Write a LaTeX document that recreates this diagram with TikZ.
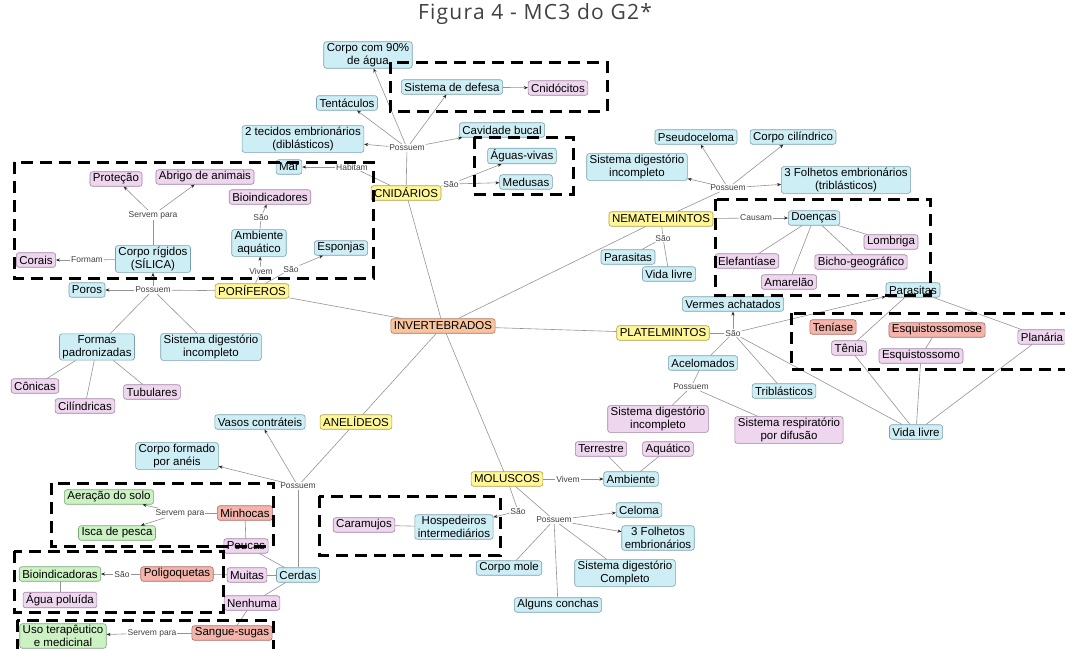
\documentclass[tikz,border=0pt]{standalone}
\usepackage{fontspec}
\setmainfont{Liberation Sans}
\newfontfamily\titlefont[LetterSpace=6]{Open Sans}
\usetikzlibrary{arrows.meta}

\definecolor{cblue}{RGB}{206,238,246}
\definecolor{cblueline}{RGB}{120,160,172}
\definecolor{cpink}{RGB}{239,214,239}
\definecolor{cpinkline}{RGB}{160,130,162}
\definecolor{cyellow}{RGB}{255,247,150}
\definecolor{cyellowline}{RGB}{170,160,80}
\definecolor{corange}{RGB}{247,196,158}
\definecolor{corangeline}{RGB}{170,120,90}
\definecolor{cred}{RGB}{244,180,172}
\definecolor{credline}{RGB}{170,110,100}
\definecolor{cgreen}{RGB}{204,242,196}
\definecolor{cgreenline}{RGB}{120,170,120}

\begin{document}
\begin{tikzpicture}[x=1pt,y=-1pt]
    % Define basic node style
    \tikzset{
        concept/.style={
            rectangle,
            rounded corners=2.5pt,
            draw,
            line width=0.6pt,
            align=center,
            inner xsep=3pt,
            inner ysep=1.6pt,
            minimum height=14.5pt,
            font=\fontsize{11.5}{12.8}\selectfont
        },
        bluebox/.style={concept, fill=cblue, draw=cblueline},
        pinkbox/.style={concept, fill=cpink, draw=cpinkline},
        yellowbox/.style={concept, fill=cyellow, draw=cyellowline},
        orangebox/.style={concept, fill=corange, draw=corangeline},
        redbox/.style={concept, fill=cred, draw=credline},
        greenbox/.style={concept, fill=cgreen, draw=cgreenline},
        linklabel/.style={fill=white, inner sep=0.8pt, text=black!75, font=\fontsize{8.5}{9}\selectfont},
        link/.style={draw=gray!85, line width=0.6pt},
        arrowlink/.style={link, -{Stealth[length=4pt, width=3.2pt, color=black!85]}},
        group/.style={line width=3pt, dash pattern=on 12pt off 7pt}
    }
    \useasboundingbox (0,0) rectangle (1065,648);

    \node[text=black!75, font=\titlefont\fontsize{21}{24}\selectfont] (title) at (535,14) {Figura 4 - MC3 do G2*};

    % Center
    \node[orangebox] (inv) at (443,326) {INVERTEBRADOS};

    % Cnidarios
    \node[yellowbox] (cnid) at (406,193) {CNIDÁRIOS};
    \node[linklabel] (cnidPos) at (407,148) {Possuem};
    \node[bluebox] (corpo90) at (368,55) {Corpo com 90\%\\de água};
    \node[bluebox] (tentac) at (347,103) {Tentáculos};
    \node[bluebox] (tecidos) at (303,139) {2 tecidos embrionários\\(diblásticos)};
    \node[bluebox] (defesa) at (452,87) {Sistema de defesa};
    \node[pinkbox] (cnidoc) at (558,88) {Cnidócitos};
    \node[bluebox] (bucal) at (502,130) {Cavidade bucal};
    \node[bluebox] (mar) at (289,167) {Mar};
    \node[linklabel] (cnidHab) at (352,167) {Habitam};
    \node[linklabel] (cnidSao) at (451,184) {São};
    \node[bluebox] (aguasv) at (522,156) {Águas-vivas};
    \node[bluebox] (medusas) at (526,182) {Medusas};

    % Poriferos
    \node[yellowbox] (porif) at (252,291) {PORÍFEROS};
    \node[linklabel] (porPos) at (153,290) {Possuem};
    \node[bluebox] (poros) at (87,290) {Poros};
    \node[bluebox] (silica) at (153,259) {Corpo rígidos\\(SÍLICA)};
    \node[linklabel] (silServ) at (153,215) {Servem para};
    \node[pinkbox] (protecao) at (116,179) {Proteção};
    \node[pinkbox] (abrigo) at (205,177) {Abrigo de animais};
    \node[linklabel] (silForm) at (87,260) {Formam};
    \node[pinkbox] (corais) at (36,260) {Corais};
    \node[linklabel] (porViv) at (261,271) {Vivem};
    \node[bluebox] (ambAq) at (259,243) {Ambiente\\aquático};
    \node[linklabel] (ambSao) at (261,217) {São};
    \node[pinkbox] (bioind) at (270,197) {Bioindicadores};
    \node[linklabel] (porSao) at (291,269) {São};
    \node[bluebox] (esponjas) at (341,248) {Esponjas};
    \node[bluebox] (formas) at (97,347) {Formas\\padronizadas};
    \node[bluebox] (porDig) at (211,347) {Sistema digestório\\incompleto};
    \node[pinkbox] (conicas) at (35,386) {Cônicas};
    \node[pinkbox] (cilind) at (85,406) {Cilíndricas};
    \node[pinkbox] (tubul) at (152,392) {Tubulares};

    % Nematelmintos
    \node[yellowbox] (nemat) at (661,219) {NEMATELMINTOS};
    \node[linklabel] (nemPos) at (728,188) {Possuem};
    \node[bluebox] (nemDig) at (637,167) {Sistema digestório\\incompleto};
    \node[bluebox] (pseudo) at (696,137) {Pseudoceloma};
    \node[bluebox] (cilindrico) at (793,137) {Corpo cilíndrico};
    \node[bluebox] (nemFolh) at (846,180) {3 Folhetos embrionários\\(triblásticos)};
    \node[linklabel] (nemCaus) at (756,218) {Causam};
    \node[bluebox] (doencas) at (814,218) {Doenças};
    \node[pinkbox] (lombriga) at (891,242) {Lombriga};
    \node[pinkbox] (elefant) at (747,261) {Elefantíase};
    \node[pinkbox] (bicho) at (861,262) {Bicho-geográfico};
    \node[pinkbox] (amarelao) at (789,282) {Amarelão};
    \node[linklabel] (nemSao) at (663,238) {São};
    \node[bluebox] (nemPara) at (628,257) {Parasitas};
    \node[bluebox] (nemVida) at (669,274) {Vida livre};

    % Platelmintos
    \node[yellowbox] (platel) at (663,333) {PLATELMINTOS};
    \node[linklabel] (platSao) at (733,333) {São};
    \node[bluebox] (vermes) at (733,304) {Vermes achatados};
    \node[bluebox] (platPara) at (913,290) {Parasitas};
    \node[bluebox] (acelom) at (703,363) {Acelomados};
    \node[linklabel] (acePos) at (691,387) {Possuem};
    \node[bluebox] (tribl) at (784,391) {Triblásticos};
    \node[pinkbox] (platDig) at (658,419) {Sistema digestório\\incompleto};
    \node[pinkbox] (respir) at (789,430) {Sistema respiratório\\por difusão};
    \node[bluebox] (platVida) at (916,432) {Vida livre};
    \node[redbox] (teniase) at (833,327) {Teníase};
    \node[pinkbox] (tenia) at (849,348) {Tênia};
    \node[redbox] (esqmose) at (937,330) {Esquistossomose};
    \node[pinkbox] (esqmo) at (921,356) {Esquistossomo};
    \node[pinkbox] (planaria) at (1042,337) {Planária};

    % Anelideos
    \node[yellowbox] (anel) at (356,422) {ANELÍDEOS};
    \node[linklabel] (anelPos) at (298,486) {Possuem};
    \node[bluebox] (vasos) at (260,422) {Vasos contráteis};
    \node[bluebox] (aneis) at (177,456) {Corpo formado\\por anéis};
    \node[bluebox] (cerdas) at (298,575) {Cerdas};
    \node[pinkbox] (poucas) at (246,546) {Poucas};
    \node[pinkbox] (muitas) at (247,575) {Muitas};
    \node[pinkbox] (nenhuma) at (252,603) {Nenhuma};
    \node[redbox] (minhocas) at (245,513) {Minhocas};
    \node[linklabel] (minServ) at (180,513) {Servem para};
    \node[greenbox] (aeracao) at (109,497) {Aeração do solo};
    \node[greenbox] (isca) at (117,533) {Isca de pesca};
    \node[redbox] (polig) at (177,574) {Poligoquetas};
    \node[linklabel] (poliSao) at (122,574) {São};
    \node[greenbox] (bioindic) at (60,574) {Bioindicadoras};
    \node[pinkbox] (agua) at (60,600) {Água poluída};
    \node[redbox] (sangue) at (232,633) {Sangue-sugas};
    \node[linklabel] (sanServ) at (152,633) {Servem para};
    \node[greenbox] (uso) at (63,636) {Uso terapêutico\\e medicinal};

    % Moluscos
    \node[yellowbox] (molus) at (507,479) {MOLUSCOS};
    \node[linklabel] (molViv) at (568,479) {Vivem};
    \node[bluebox] (ambiente) at (631,479) {Ambiente};
    \node[pinkbox] (terrestre) at (601,449) {Terrestre};
    \node[pinkbox] (aquatico) at (668,449) {Aquático};
    \node[linklabel] (molSao) at (518,511) {São};
    \node[bluebox] (hosped) at (454,527) {Hospedeiros\\intermediários};
    \node[pinkbox] (caram) at (364,525) {Caramujos};
    \node[linklabel] (molPos) at (554,520) {Possuem};
    \node[bluebox] (celoma) at (639,510) {Celoma};
    \node[bluebox] (molFolh) at (658,538) {3 Folhetos\\embrionários};
    \node[bluebox] (mole) at (509,568) {Corpo mole};
    \node[bluebox] (molDig) at (625,573) {Sistema digestório\\Completo};
    \node[bluebox] (conchas) at (558,605) {Alguns conchas};

    % Connections from the center
    \draw[link] (inv) -- (cnid);
    \draw[link] (inv) -- (porif);
    \draw[link] (inv) -- (nemat);
    \draw[link] (inv) -- (platel);
    \draw[link] (inv) -- (anel);
    \draw[link] (inv) -- (molus);

    % Cnidarios connections
    \draw[link] (cnid) -- (cnidPos);
    \draw[arrowlink] (cnidPos) -- (corpo90);
    \draw[arrowlink] (cnidPos) -- (tentac);
    \draw[arrowlink] (cnidPos) -- (tecidos);
    \draw[arrowlink] (cnidPos) -- (defesa);
    \draw[arrowlink] (cnidPos) -- (bucal);
    \draw[arrowlink] (defesa) -- (cnidoc);
    \draw[link] (cnid) -- (cnidHab);
    \draw[arrowlink] (cnidHab) -- (mar);
    \draw[link] (cnid) -- (cnidSao);
    \draw[arrowlink] (cnidSao) -- (aguasv);
    \draw[arrowlink] (cnidSao) -- (medusas);

    % Poriferos connections
    \draw[link] (porif) -- (porPos);
    \draw[arrowlink] (porPos) -- (poros);
    \draw[arrowlink] (porPos) -- (silica);
    \draw[link] (porPos) -- (formas);
    \draw[link] (porPos) -- (porDig);
    \draw[link] (silica) -- (silServ);
    \draw[arrowlink] (silServ) -- (protecao);
    \draw[arrowlink] (silServ) -- (abrigo);
    \draw[link] (silica) -- (silForm);
    \draw[arrowlink] (silForm) -- (corais);
    \draw[link] (porif) -- (porViv);
    \draw[arrowlink] (porViv) -- (ambAq);
    \draw[link] (ambAq) -- (ambSao);
    \draw[arrowlink] (ambSao) -- (bioind);
    \draw[link] (porif) -- (porSao);
    \draw[arrowlink] (porSao) -- (esponjas);
    \draw[link] (formas) -- (conicas);
    \draw[link] (formas) -- (cilind);
    \draw[link] (formas) -- (tubul);

    % Nematelmintos connections
    \draw[link] (nemat) -- (nemPos);
    \draw[arrowlink] (nemPos) -- (nemDig);
    \draw[arrowlink] (nemPos) -- (pseudo);
    \draw[arrowlink] (nemPos) -- (cilindrico);
    \draw[arrowlink] (nemPos) -- (nemFolh);
    \draw[link] (nemat) -- (nemCaus);
    \draw[arrowlink] (nemCaus) -- (doencas);
    \draw[link] (doencas) -- (lombriga);
    \draw[link] (doencas) -- (elefant);
    \draw[link] (doencas) -- (bicho);
    \draw[link] (doencas) -- (amarelao);
    \draw[link] (nemat) -- (nemSao);
    \draw[link] (nemSao) -- (nemPara);
    \draw[link] (nemSao) -- (nemVida);

    % Platelmintos connections
    \draw[link] (platel) -- (platSao);
    \draw[arrowlink] (platSao) -- (vermes);
    \draw[arrowlink] (platSao) -- (platPara);
    \draw[link] (platSao) -- (acelom);
    \draw[link] (platSao) -- (tribl);
    \draw[link] (platSao) -- (platVida);
    \draw[link] (acelom) -- (acePos);
    \draw[link] (acePos) -- (platDig);
    \draw[link] (acePos) -- (respir);
    \draw[link] (platPara) -- (tenia);
    \draw[link] (platPara) -- (planaria);
    \draw[link] (esqmose) -- (esqmo);
    \draw[link] (tenia) -- (platVida);
    \draw[link] (esqmo) -- (platVida);
    \draw[link] (planaria) -- (platVida);

    % Anelideos connections
    \draw[link] (anel) -- (anelPos);
    \draw[arrowlink] (anelPos) -- (vasos);
    \draw[arrowlink] (anelPos) -- (aneis);
    \draw[link] (anelPos) -- (cerdas);
    \draw[link] (cerdas) -- (poucas);
    \draw[link] (cerdas) -- (muitas);
    \draw[link] (cerdas) -- (nenhuma);
    \draw[link] (poucas) -- (minhocas);
    \draw[link] (minhocas) -- (minServ);
    \draw[arrowlink] (minServ) -- (aeracao);
    \draw[arrowlink] (minServ) -- (isca);
    \draw[link] (muitas) -- (polig);
    \draw[link] (polig) -- (poliSao);
    \draw[arrowlink] (poliSao) -- (bioindic);
    \draw[link] (bioindic) -- (agua);
    \draw[link] (nenhuma) -- (sangue);
    \draw[link] (sangue) -- (sanServ);
    \draw[arrowlink] (sanServ) -- (uso);

    % Moluscos connections
    \draw[link] (molus) -- (molViv);
    \draw[arrowlink] (molViv) -- (ambiente);
    \draw[link] (ambiente) -- (terrestre);
    \draw[link] (ambiente) -- (aquatico);
    \draw[link] (molus) -- (molSao);
    \draw[arrowlink] (molSao) -- (hosped);
    \draw[link] (hosped) -- (caram);
    \draw[link] (molus) -- (molPos);
    \draw[arrowlink] (molPos) -- (celoma);
    \draw[arrowlink] (molPos) -- (molFolh);
    \draw[link] (molPos) -- (mole);
    \draw[link] (molPos) -- (molDig);
    \draw[link] (molPos) -- (conchas);

    % Dashed groups
    \draw[group] (390,62) rectangle (607,111);
    \draw[group] (474,137) rectangle (573,194);
    \draw[group] (14,162) rectangle (373,278);
    \draw[group] (715,199) rectangle (930,295);
    \draw[group] (791,313) rectangle (1075,369);
    \draw[group] (319,496) rectangle (500,555);
    \draw[group] (51,483) rectangle (273,546);
    \draw[group] (14,551) rectangle (223,612);
    \draw[group] (17,620) rectangle (273,660);
\end{tikzpicture}
\end{document}
